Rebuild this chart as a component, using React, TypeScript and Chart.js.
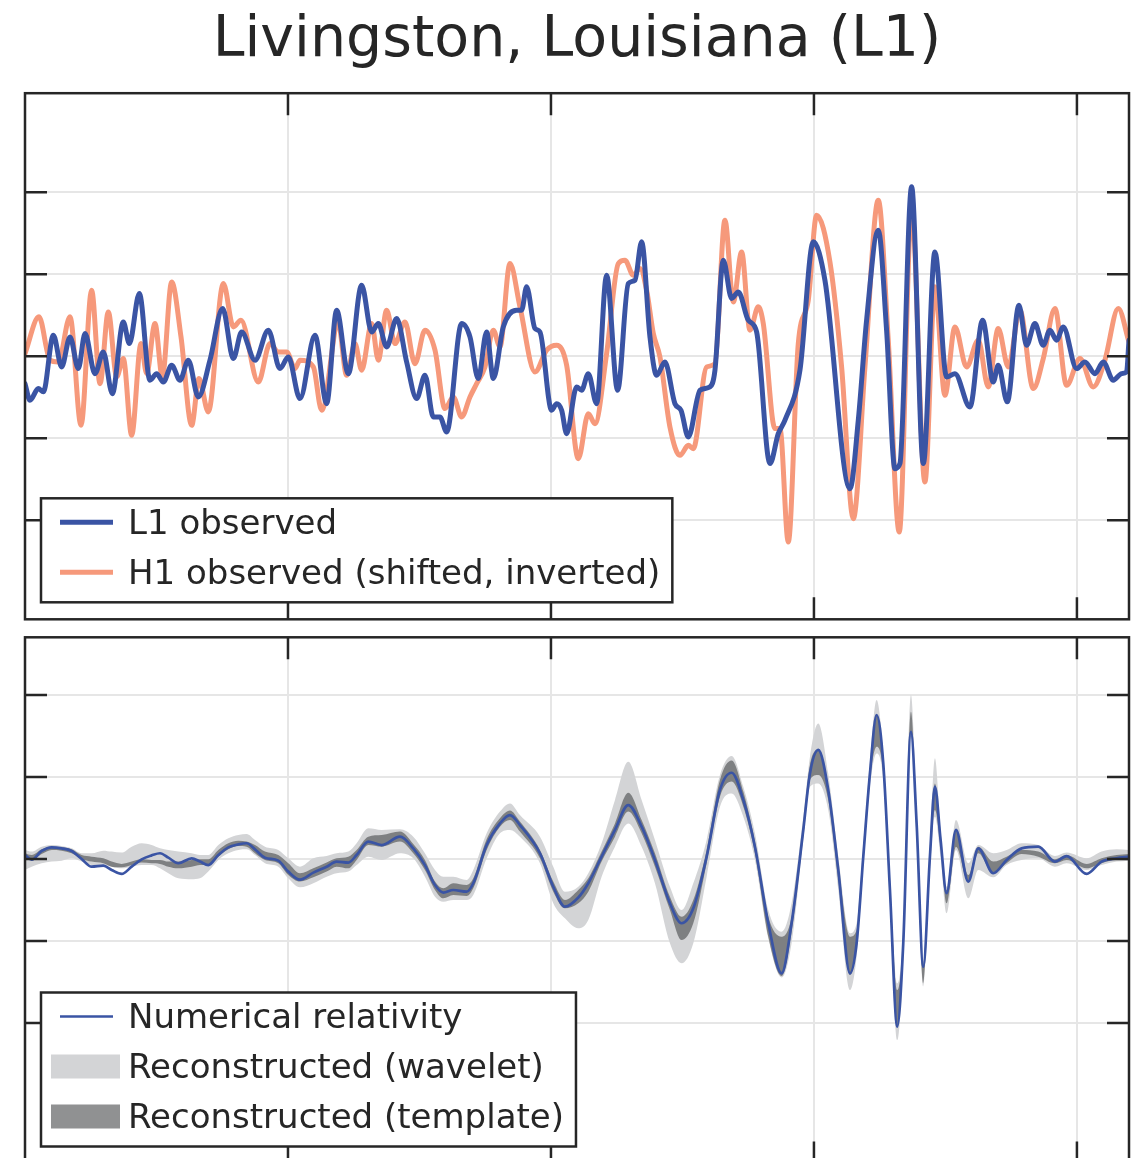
import React, { useEffect, useRef } from "react";
import { Chart, registerables } from "chart.js";

Chart.register(...registerables);

const FONT = '"DejaVu Sans", "Bitstream Vera Sans", sans-serif';
const INK = "#262626";
const BLUE = "#3a54a4";
const SALMON = "#f6997b";
const LIGHT = "#d3d4d6";
const DARK = "rgba(70,71,74,0.6)";

const titleText = "Livingston, Louisiana (L1)";
const xTickValues = [0.3, 0.35, 0.4, 0.45];
const yTickValues = [-1, -0.5, 0, 0.5, 1];

const l1Label = "L1 observed";
const h1Label = "H1 observed (shifted, inverted)";
const nrLabel = "Numerical relativity";
const waveletLabel = "Reconstructed (wavelet)";
const templateLabel = "Reconstructed (template)";

// ---- top panel: observed strain (units of 1e-21), time in s ----
const l1Time = [
  0.25, 0.25095, 0.25253, 0.25349, 0.25539, 0.25697, 0.25856, 0.26014, 0.26141, 0.26331,
  0.26489, 0.2666, 0.26869, 0.26984, 0.27174, 0.27376, 0.27503, 0.2763, 0.27788, 0.27947,
  0.28105, 0.28295, 0.28517, 0.28758, 0.28961, 0.29119, 0.29373, 0.29626, 0.29848, 0.30006,
  0.30228, 0.30513, 0.30735, 0.30925, 0.31147, 0.314, 0.31591, 0.31717, 0.31876, 0.32066,
  0.32256, 0.32446, 0.32605, 0.32763, 0.3289, 0.33017, 0.33302, 0.3346, 0.33618, 0.33777,
  0.33904, 0.34094, 0.34347, 0.34442, 0.34537, 0.34696, 0.34791, 0.35013, 0.35108, 0.35203,
  0.35298, 0.35488, 0.35583, 0.3571, 0.35868, 0.36058, 0.36267, 0.3647, 0.36597, 0.36724,
  0.36882, 0.37009, 0.37167, 0.37357, 0.37472, 0.37611, 0.37834, 0.38023, 0.38118, 0.38276,
  0.38435, 0.38562, 0.38752, 0.3891, 0.39164, 0.39322, 0.39449, 0.39734, 0.39988, 0.40209,
  0.40685, 0.40843, 0.41001, 0.41223, 0.41381, 0.4154, 0.41635, 0.41857, 0.42079, 0.423,
  0.42522, 0.42681, 0.42966, 0.43207, 0.43409, 0.43504, 0.43676, 0.43897, 0.44043, 0.44201,
  0.44359, 0.44487, 0.44614, 0.4474, 0.44994, 0.45152, 0.45342, 0.45501, 0.45691, 0.45849,
  0.45944, 0.4599,
];
const l1Strain = [
  -0.167, -0.268, -0.197, -0.217, 0.128, -0.065, 0.118, -0.075, 0.138, -0.106,
  0.026, -0.228, 0.209, 0.077, 0.382, -0.146, -0.106, -0.157, -0.055, -0.146,
  -0.024, -0.248, -0.024, 0.291, -0.014, 0.148, -0.024, 0.159, -0.075, -0.004,
  -0.258, 0.128, -0.289, 0.28, -0.106, 0.433, 0.148, 0.199, 0.057, 0.23,
  -0.035, -0.258, -0.116, -0.37, -0.37, -0.461, 0.199, 0.118, -0.136, 0.148,
  -0.136, 0.179, 0.28, 0.28, 0.423, 0.169, 0.148, -0.329, -0.289, -0.329,
  -0.472, -0.187, -0.207, -0.106, -0.289, 0.494, -0.207, 0.443, 0.463, 0.697,
  0.118, -0.116, -0.035, -0.289, -0.329, -0.492, -0.207, -0.187, -0.085, 0.585,
  0.352, 0.392, 0.22, 0.148, -0.654, -0.472, -0.39, -0.085, 0.697, 0.463,
  -0.807, -0.39, 0.22, 0.768, 0.159, -0.685, -0.654, 1.033, -0.654, 0.636,
  -0.126, -0.106, -0.309, 0.22, -0.157, -0.055, -0.278, 0.311, 0.067, 0.199,
  0.067, 0.159, 0.098, 0.179, -0.075, -0.035, -0.106, -0.035, -0.146, -0.106,
  -0.096, 0.098,
];

const h1Time = [
  0.25, 0.25266, 0.25475, 0.25634, 0.25856, 0.26065, 0.26267, 0.26426, 0.26584, 0.26743,
  0.26869, 0.27028, 0.27205, 0.27313, 0.27471, 0.27611, 0.27788, 0.27966, 0.28169, 0.28308,
  0.28485, 0.28771, 0.28961, 0.29106, 0.29436, 0.29658, 0.29816, 0.29975, 0.30133, 0.30228,
  0.30482, 0.3064, 0.30957, 0.31115, 0.31274, 0.314, 0.31591, 0.31717, 0.31876, 0.32034,
  0.32224, 0.32414, 0.32605, 0.32795, 0.32985, 0.33144, 0.33302, 0.3346, 0.33587, 0.33745,
  0.33904, 0.3403, 0.3422, 0.34411, 0.34696, 0.34918, 0.35108, 0.35298, 0.3552, 0.3571,
  0.35837, 0.36058, 0.3628, 0.36407, 0.36565, 0.36692, 0.36819, 0.36946, 0.37072, 0.37262,
  0.37453, 0.37611, 0.37706, 0.3796, 0.38118, 0.38308, 0.38467, 0.38625, 0.38783, 0.38942,
  0.39037, 0.39259, 0.39354, 0.39512, 0.39702, 0.39892, 0.40051, 0.40304, 0.40526, 0.40748,
  0.4097, 0.41223, 0.41413, 0.41622, 0.41857, 0.4211, 0.423, 0.4249, 0.42681, 0.42902,
  0.43124, 0.43314, 0.43504, 0.43695, 0.43916, 0.4417, 0.4436, 0.44582, 0.44803, 0.45057,
  0.4531, 0.45532, 0.45786, 0.4599,
];
const h1Strain = [
  0.016, 0.24, -0.024, -0.035, 0.24, -0.421, 0.402, -0.167, 0.27, -0.126,
  -0.014, -0.482, 0.077, -0.106, 0.199, -0.126, 0.453, 0.118, -0.421, -0.136,
  -0.339, 0.443, 0.179, 0.22, -0.157, 0.077, 0.026, 0.026, -0.075, -0.024,
  -0.065, -0.329, 0.199, -0.116, 0.077, -0.085, 0.199, -0.024, 0.28, 0.077,
  0.209, -0.045, 0.159, 0.037, -0.319, -0.248, -0.37, -0.248, -0.167, -0.065,
  0.159, 0.057, 0.565, 0.301, -0.096, 0.037, 0.067, -0.055, -0.624, -0.35,
  -0.411, 0.016, 0.565, 0.585, 0.494, 0.535, 0.402, 0.138, -0.004, -0.431,
  -0.604, -0.543, -0.563, -0.065, -0.045, 0.829, 0.331, 0.636, 0.159, 0.301,
  0.199, -0.441, -0.441, -1.132, 0.077, 0.341, 0.86, 0.575, -0.065, -0.99,
  -0.065, 0.951, 0.098, -1.071, 0.89, -0.766, 0.423, -0.238, 0.179, -0.065,
  0.098, -0.187, 0.169, -0.065, 0.28, -0.197, -0.014, 0.291, -0.177, -0.014,
  -0.187, -0.024, 0.291, 0.087,
];

// ---- bottom panel: numerical relativity and reconstructions ----
const nrTime = [
  0.25, 0.25127, 0.25317, 0.25507, 0.25697, 0.25887, 0.26077, 0.26267, 0.26489, 0.26648,
  0.26838, 0.27028, 0.27218, 0.27408, 0.27567, 0.27725, 0.27915, 0.28169, 0.28327, 0.28485,
  0.28676, 0.28866, 0.29056, 0.29214, 0.29373, 0.29563, 0.29816, 0.30006, 0.30228, 0.30482,
  0.30735, 0.30925, 0.31147, 0.31305, 0.31527, 0.31781, 0.32129, 0.32382, 0.32604, 0.32795,
  0.32953, 0.33143, 0.33397, 0.33523, 0.33777, 0.3403, 0.3422, 0.3441, 0.34791, 0.35044,
  0.35266, 0.3552, 0.3571, 0.35963, 0.36217, 0.3647, 0.36724, 0.36977, 0.37262, 0.37484,
  0.37706, 0.3796, 0.38213, 0.38435, 0.38657, 0.38878, 0.39132, 0.39385, 0.39575, 0.39797,
  0.39924, 0.40082, 0.40272, 0.40463, 0.40685, 0.40811, 0.40938, 0.41065, 0.41191, 0.41318,
  0.41445, 0.41584, 0.41698, 0.41844, 0.41952, 0.42079, 0.42205, 0.423, 0.42408, 0.42522,
  0.427, 0.42934, 0.43124, 0.43409, 0.43663, 0.43948, 0.44265, 0.44582, 0.44804, 0.45184,
  0.45469, 0.45754, 0.4599,
];
const nrStrain = [
  0.024, -0.004, 0.049, 0.071, 0.065, 0.049, 0.0, -0.047, -0.041, -0.067,
  -0.091, -0.047, -0.002, 0.022, 0.035, 0.008, -0.026, 0.004, -0.016, -0.037,
  0.024, 0.071, 0.089, 0.096, 0.059, 0.008, -0.01, -0.077, -0.126, -0.083,
  -0.047, -0.016, -0.022, 0.024, 0.106, 0.085, 0.136, 0.065, -0.037, -0.159,
  -0.205, -0.189, -0.199, -0.148, 0.085, 0.217, 0.268, 0.207, 0.035, -0.169,
  -0.291, -0.235, -0.148, 0.014, 0.177, 0.329, 0.197, -0.006, -0.27, -0.392,
  -0.301, 0.014, 0.421, 0.526, 0.36, 0.075, -0.392, -0.697, -0.392, 0.177,
  0.522, 0.665, 0.421, -0.067, -0.697, -0.514, 0.014, 0.522, 0.878, 0.583,
  -0.189, -1.022, -0.514, 0.776, 0.217, -0.657, 0.014, 0.441, 0.116, -0.209,
  0.177, -0.138, 0.065, -0.087, -0.006, 0.065, 0.075, -0.016, 0.018, -0.091,
  -0.016, 0.004, 0.014,
];
const templateLow = [
  -0.006, -0.006, 0.03, 0.055, 0.051, 0.035, 0.0, -0.016, -0.026, -0.047,
  -0.051, -0.037, -0.022, -0.026, -0.03, -0.047, -0.057, -0.047, -0.037, -0.037,
  0.014, 0.059, 0.079, 0.075, 0.035, -0.006, -0.026, -0.098, -0.138, -0.112,
  -0.077, -0.047, -0.057, -0.006, 0.085, 0.075, 0.106, 0.035, -0.067, -0.189,
  -0.24, -0.22, -0.226, -0.179, 0.055, 0.197, 0.238, 0.167, 0.004, -0.199,
  -0.301, -0.27, -0.199, -0.016, 0.136, 0.289, 0.157, -0.047, -0.311, -0.494,
  -0.392, -0.026, 0.38, 0.472, 0.319, 0.035, -0.474, -0.713, -0.443, 0.136,
  0.482, 0.512, 0.36, -0.128, -0.707, -0.535, -0.016, 0.482, 0.685, 0.522,
  -0.23, -1.026, -0.555, 0.766, 0.177, -0.758, -0.026, 0.299, 0.075, -0.27,
  0.075, -0.144, 0.035, -0.087, -0.026, 0.03, 0.014, -0.026, -0.006, -0.057,
  -0.026, -0.002, 0.004,
];
const templateHigh = [
  0.035, 0.024, 0.059, 0.075, 0.071, 0.059, 0.024, 0.014, 0.004, -0.016,
  -0.03, -0.016, -0.002, -0.006, -0.006, -0.016, -0.016, -0.006, -0.002, -0.002,
  0.055, 0.096, 0.112, 0.106, 0.085, 0.045, 0.024, -0.026, -0.087, -0.057,
  -0.022, 0.004, 0.014, 0.055, 0.136, 0.146, 0.167, 0.091, -0.006, -0.138,
  -0.179, -0.148, -0.159, -0.118, 0.12, 0.248, 0.295, 0.228, 0.055, -0.138,
  -0.25, -0.189, -0.118, 0.045, 0.217, 0.404, 0.238, 0.035, -0.23, -0.352,
  -0.25, 0.055, 0.482, 0.6, 0.411, 0.106, -0.352, -0.474, -0.352, 0.217,
  0.573, 0.665, 0.441, -0.037, -0.474, -0.433, 0.055, 0.563, 0.884, 0.604,
  -0.148, -0.799, -0.474, 0.898, 0.258, -0.646, 0.055, 0.461, 0.136, -0.189,
  0.181, -0.098, 0.075, -0.016, 0.014, 0.055, 0.045, -0.002, 0.024, -0.03,
  0.004, 0.024, 0.03,
];
const waveletLow = [
  -0.067, -0.047, -0.026, -0.016, -0.01, 0.004, -0.016, -0.037, -0.037, -0.047,
  -0.057, -0.047, -0.037, -0.037, -0.057, -0.087, -0.118, -0.124, -0.118, -0.077,
  -0.006, 0.035, 0.055, 0.059, 0.024, -0.026, -0.047, -0.118, -0.173, -0.148,
  -0.108, -0.087, -0.077, -0.037, 0.014, -0.006, 0.035, 0.004, -0.108, -0.23,
  -0.26, -0.25, -0.25, -0.22, 0.004, 0.157, 0.177, 0.136, -0.026, -0.27,
  -0.362, -0.423, -0.372, -0.108, 0.075, 0.217, 0.075, -0.148, -0.514, -0.636,
  -0.514, -0.108, 0.319, 0.4, 0.258, -0.006, -0.484, -0.722, -0.514, 0.116,
  0.441, 0.461, 0.299, -0.189, -0.799, -0.596, -0.047, 0.441, 0.644, 0.482,
  -0.27, -1.104, -0.596, 0.746, 0.136, -0.778, -0.067, 0.258, 0.014, -0.331,
  0.055, -0.24, -0.067, -0.112, -0.037, -0.006, 0.004, -0.047, -0.026, -0.067,
  -0.037, -0.016, -0.01,
];
const waveletHigh = [
  0.055, 0.045, 0.075, 0.085, 0.079, 0.065, 0.035, 0.035, 0.051, 0.045,
  0.039, 0.075, 0.096, 0.085, 0.065, 0.055, 0.045, 0.035, 0.024, 0.024,
  0.085, 0.126, 0.146, 0.152, 0.116, 0.075, 0.055, 0.004, -0.047, 0.004,
  0.018, 0.035, 0.045, 0.096, 0.187, 0.177, 0.181, 0.136, 0.035, -0.067,
  -0.108, -0.108, -0.128, -0.067, 0.157, 0.289, 0.339, 0.268, 0.136, -0.047,
  -0.199, -0.169, -0.087, 0.096, 0.36, 0.593, 0.36, 0.116, -0.169, -0.311,
  -0.148, 0.116, 0.512, 0.628, 0.441, 0.157, -0.311, -0.443, -0.27, 0.258,
  0.624, 0.827, 0.522, 0.014, -0.453, -0.392, 0.096, 0.604, 0.97, 0.644,
  -0.108, -0.758, -0.433, 1.0, 0.299, -0.626, 0.096, 0.614, 0.177, -0.169,
  0.238, -0.026, 0.085, 0.035, 0.055, 0.096, 0.085, 0.018, 0.039, 0.004,
  0.045, 0.059, 0.055,
];

const pts = (ts: number[], vs: number[]) => ts.map((t, i) => ({ x: t, y: vs[i] }));

const framePlugin = {
  id: "frame",
  afterDatasetsDraw(chart: any) {
    const { ctx, chartArea: ca, scales } = chart;
    const L = 22;
    ctx.save();
    ctx.strokeStyle = INK;
    ctx.lineWidth = 2.5;
    ctx.lineCap = "butt";
    ctx.beginPath();
    for (const v of xTickValues) {
      const x = scales.x.getPixelForValue(v);
      ctx.moveTo(x, ca.top);
      ctx.lineTo(x, ca.top + L);
      ctx.moveTo(x, ca.bottom);
      ctx.lineTo(x, ca.bottom - L);
    }
    for (const v of yTickValues) {
      const y = scales.y.getPixelForValue(v);
      ctx.moveTo(ca.left, y);
      ctx.lineTo(ca.left + L, y);
      ctx.moveTo(ca.right, y);
      ctx.lineTo(ca.right - L, y);
    }
    ctx.stroke();
    ctx.strokeRect(ca.left, ca.top, ca.right - ca.left, ca.bottom - ca.top);
    ctx.restore();
  },
};

const legendPlugin = {
  id: "boxLegend",
  afterDraw(chart: any, _args: any, opts: any) {
    const { ctx, chartArea: ca } = chart;
    const items = (opts && opts.items) || [];
    if (!items.length) return;
    ctx.save();
    ctx.font = `${opts.fontSize}px ${FONT}`;
    const textW = Math.max(...items.map((it: any) => ctx.measureText(it.label).width));
    const rowH = 50;
    const left = ca.left + 16;
    const bottom = ca.bottom - 17;
    const top = bottom - (rowH * items.length + 4);
    const textX = ca.left + 103;
    const right = textX + textW + 12;
    ctx.fillStyle = "#ffffff";
    ctx.fillRect(left, top, right - left, bottom - top);
    ctx.lineWidth = 2.5;
    ctx.strokeStyle = INK;
    ctx.strokeRect(left, top, right - left, bottom - top);
    items.forEach((it: any, i: number) => {
      const cy = top + 24 + rowH * i;
      if (it.kind === "line") {
        ctx.strokeStyle = it.color;
        ctx.lineWidth = it.width;
        ctx.lineCap = "butt";
        ctx.beginPath();
        ctx.moveTo(ca.left + 35, cy);
        ctx.lineTo(ca.left + 88, cy);
        ctx.stroke();
      } else {
        ctx.fillStyle = it.color;
        ctx.fillRect(ca.left + 26, cy - 12, 69, 24);
      }
      ctx.fillStyle = INK;
      ctx.textBaseline = "middle";
      ctx.textAlign = "left";
      ctx.fillText(it.label, textX, cy + 3);
    });
    ctx.restore();
  },
};

const xScale = () => ({
  type: "linear",
  min: 0.25,
  max: 0.4599,
  afterBuildTicks: (s: any) => {
    s.ticks = xTickValues.map((value) => ({ value }));
  },
  ticks: { display: false },
  grid: { color: "#e6e6e6", lineWidth: 2, drawTicks: false },
  border: { display: false },
});
const yScale = (min: number, max: number) => ({
  type: "linear",
  min,
  max,
  afterBuildTicks: (s: any) => {
    s.ticks = yTickValues.map((value) => ({ value }));
  },
  ticks: { display: false },
  grid: { color: "#e6e6e6", lineWidth: 2, drawTicks: false },
  border: { display: false },
});

const lineDs = (label: string, data: any, color: string, width: number, extra: any = {}) => ({
  label,
  data,
  borderColor: color,
  backgroundColor: color,
  borderWidth: width,
  pointRadius: 0,
  cubicInterpolationMode: "monotone",
  borderJoinStyle: "round",
  borderCapStyle: "round",
  fill: false,
  ...extra,
});

function TopPanel() {
  const ref = useRef<HTMLCanvasElement>(null);
  useEffect(() => {
    const chart = new Chart(ref.current as HTMLCanvasElement, {
      type: "line",
      data: {
        datasets: [
          lineDs(l1Label, pts(l1Time, l1Strain), BLUE, 5),
          lineDs(h1Label, pts(h1Time, h1Strain), SALMON, 5),
        ],
      },
      options: {
        responsive: false,
        animation: false,
        devicePixelRatio: 1,
        events: [],
        layout: { padding: { left: 25, right: 11, top: 0, bottom: 8.7 } },
        scales: { x: xScale(), y: yScale(-1.603, 1.603) },
        plugins: {
          legend: { display: false },
          tooltip: { enabled: false },
          title: {
            display: true,
            text: titleText,
            color: INK,
            font: { family: FONT, size: 57, weight: "normal", lineHeight: 1.2 },
            padding: { top: 7, bottom: 17.8 },
          },
          boxLegend: {
            fontSize: 34,
            items: [
              { label: l1Label, kind: "line", color: BLUE, width: 5 },
              { label: h1Label, kind: "line", color: SALMON, width: 5 },
            ],
          },
        },
      } as any,
      plugins: [framePlugin, legendPlugin],
    });
    return () => chart.destroy();
  }, []);
  return (
    <canvas
      ref={ref}
      width={1140}
      height={628}
      style={{ position: "absolute", left: 0, top: 0, width: 1140, height: 628 }}
    />
  );
}

function BottomPanel() {
  const ref = useRef<HTMLCanvasElement>(null);
  useEffect(() => {
    const none = "rgba(0,0,0,0)";
    const chart = new Chart(ref.current as HTMLCanvasElement, {
      type: "line",
      data: {
        datasets: [
          lineDs(nrLabel, pts(nrTime, nrStrain), BLUE, 2.7),
          lineDs(templateLabel + " upper", pts(nrTime, templateHigh), none, 0),
          lineDs(templateLabel, pts(nrTime, templateLow), none, 0, { fill: "-1", backgroundColor: DARK }),
          lineDs(waveletLabel + " upper", pts(nrTime, waveletHigh), none, 0),
          lineDs(waveletLabel, pts(nrTime, waveletLow), none, 0, { fill: "-1", backgroundColor: LIGHT }),
        ],
      },
      options: {
        responsive: false,
        animation: false,
        devicePixelRatio: 1,
        events: [],
        layout: { padding: { left: 25, right: 11, top: 9.3, bottom: 9.5 } },
        scales: { x: xScale(), y: yScale(-1.857, 1.352) },
        plugins: {
          legend: { display: false },
          tooltip: { enabled: false },
          boxLegend: {
            fontSize: 34,
            items: [
              { label: nrLabel, kind: "line", color: BLUE, width: 2.7 },
              { label: waveletLabel, kind: "patch", color: LIGHT },
              { label: templateLabel, kind: "patch", color: DARK },
            ],
          },
        },
      } as any,
      plugins: [framePlugin, legendPlugin],
    });
    return () => chart.destroy();
  }, []);
  return (
    <canvas
      ref={ref}
      width={1140}
      height={545}
      style={{ position: "absolute", left: 0, top: 628, width: 1140, height: 545 }}
    />
  );
}

export default function App() {
  return (
    <div
      style={{
        position: "fixed",
        left: 0,
        top: 0,
        width: 1140,
        height: 1158,
        overflow: "hidden",
        background: "#ffffff",
      }}
    >
      <TopPanel />
      <BottomPanel />
    </div>
  );
}
